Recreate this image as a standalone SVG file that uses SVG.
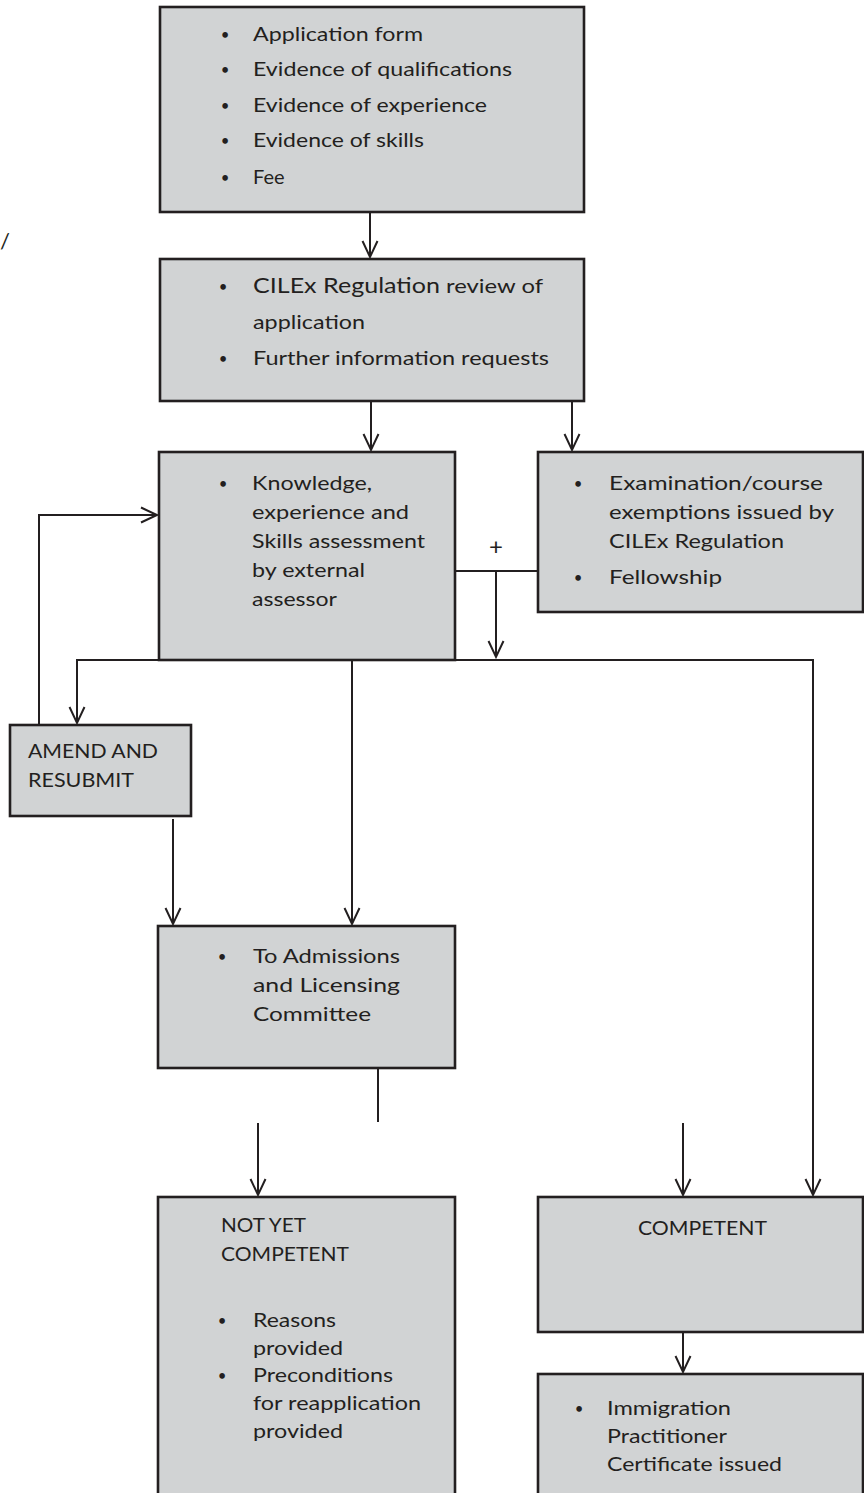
<svg xmlns="http://www.w3.org/2000/svg" width="864" height="1493" viewBox="0 0 864 1493">
<style>
.box{fill:#d1d3d4;stroke:#231f20;stroke-width:2.6}
.t{font-family:Lato,"Open Sans",sans-serif;font-size:20px;fill:#231f20}
.b{font-family:Lato,"Open Sans",sans-serif;font-size:15px;fill:#231f20;text-anchor:middle}
.c{fill:none;stroke:#231f20;stroke-width:2}
</style>
<defs>
<marker id="ah" markerUnits="userSpaceOnUse" markerWidth="20" markerHeight="20" orient="auto" refX="0" refY="0" overflow="visible">
<path d="M-16,-7.5 L0,0 L-16,7.5" fill="none" stroke="#231f20" stroke-width="2"/>
</marker>
</defs>
<rect width="864" height="1493" fill="#fff"/>
<text class="t" x="0" y="249" style="font-size:22px">/</text>

<g id="connectors">
<line class="c" x1="370" y1="212" x2="370" y2="257" marker-end="url(#ah)"/>
<line class="c" x1="371" y1="401" x2="371" y2="450" marker-end="url(#ah)"/>
<line class="c" x1="572" y1="401" x2="572" y2="450" marker-end="url(#ah)"/>
<polyline class="c" points="39,725 39,515 157,515" marker-end="url(#ah)"/>
<line class="c" x1="455" y1="571" x2="538" y2="571"/>
<line class="c" x1="496" y1="571" x2="496" y2="657" marker-end="url(#ah)"/>
<line class="c" x1="76" y1="660" x2="814" y2="660"/>
<line class="c" x1="77" y1="660" x2="77" y2="723" marker-end="url(#ah)"/>
<line class="c" x1="352" y1="660" x2="352" y2="924" marker-end="url(#ah)"/>
<line class="c" x1="813" y1="660" x2="813" y2="1195" marker-end="url(#ah)"/>
<line class="c" x1="173" y1="819" x2="173" y2="924" marker-end="url(#ah)"/>
<line class="c" x1="378" y1="1068" x2="378" y2="1122"/>
<line class="c" x1="258" y1="1123" x2="258" y2="1195" marker-end="url(#ah)"/>
<line class="c" x1="683" y1="1123" x2="683" y2="1195" marker-end="url(#ah)"/>
<line class="c" x1="683" y1="1332" x2="683" y2="1372" marker-end="url(#ah)"/>
<text class="t" x="496" y="555" text-anchor="middle" style="font-size:24px">+</text>
</g>

<g id="n-application">
<rect class="box" x="160" y="7" width="424" height="205"/>
<text class="b" x="225" y="40">•</text><text class="t" x="253" y="41" textLength="170" lengthAdjust="spacingAndGlyphs">Application form</text>
<text class="b" x="225" y="75">•</text><text class="t" x="253" y="76" textLength="259" lengthAdjust="spacingAndGlyphs">Evidence of qualifications</text>
<text class="b" x="225" y="111">•</text><text class="t" x="253" y="112" textLength="234" lengthAdjust="spacingAndGlyphs">Evidence of experience</text>
<text class="b" x="225" y="146">•</text><text class="t" x="253" y="147" textLength="171" lengthAdjust="spacingAndGlyphs">Evidence of skills</text>
<text class="b" x="225" y="183">•</text><text class="t" x="253" y="184">Fee</text>
</g>

<g id="n-review">
<rect class="box" x="160" y="259" width="424" height="142"/>
<text class="b" x="223" y="292">•</text>
<text class="t" x="253" y="293" style="font-size:22px" textLength="187" lengthAdjust="spacingAndGlyphs">CILEx Regulation</text>
<text class="t" x="446" y="293" textLength="97" lengthAdjust="spacingAndGlyphs">review of</text>
<text class="t" x="253" y="329" textLength="112" lengthAdjust="spacingAndGlyphs">application</text>
<text class="b" x="223" y="364">•</text><text class="t" x="253" y="365" textLength="296" lengthAdjust="spacingAndGlyphs">Further information requests</text>
</g>

<g id="n-assessment">
<rect class="box" x="159" y="452" width="296" height="208"/>
<text class="b" x="223" y="489">•</text><text class="t" x="252" y="490" textLength="120" lengthAdjust="spacingAndGlyphs">Knowledge,</text>
<text class="t" x="252" y="519" textLength="157" lengthAdjust="spacingAndGlyphs">experience and</text>
<text class="t" x="252" y="548" textLength="173" lengthAdjust="spacingAndGlyphs">Skills assessment</text>
<text class="t" x="252" y="577" textLength="113" lengthAdjust="spacingAndGlyphs">by external</text>
<text class="t" x="252" y="606" textLength="85" lengthAdjust="spacingAndGlyphs">assessor</text>
</g>

<g id="n-exemptions">
<rect class="box" x="538" y="452" width="325" height="160"/>
<text class="b" x="578" y="489">•</text><text class="t" x="609" y="490" textLength="214" lengthAdjust="spacingAndGlyphs">Examination/course</text>
<text class="t" x="609" y="519" textLength="225" lengthAdjust="spacingAndGlyphs">exemptions issued by</text>
<text class="t" x="609" y="548" textLength="175" lengthAdjust="spacingAndGlyphs">CILEx Regulation</text>
<text class="b" x="578" y="583">•</text><text class="t" x="609" y="584" textLength="113" lengthAdjust="spacingAndGlyphs">Fellowship</text>
</g>

<g id="n-amend">
<rect class="box" x="10" y="725" width="181" height="91"/>
<text class="t" x="28" y="758" textLength="130" lengthAdjust="spacingAndGlyphs">AMEND AND</text>
<text class="t" x="28" y="787" textLength="106" lengthAdjust="spacingAndGlyphs">RESUBMIT</text>
</g>

<g id="n-committee">
<rect class="box" x="158" y="926" width="297" height="142"/>
<text class="b" x="222" y="962">•</text><text class="t" x="253" y="963" textLength="147" lengthAdjust="spacingAndGlyphs">To Admissions</text>
<text class="t" x="253" y="992" textLength="147" lengthAdjust="spacingAndGlyphs">and Licensing</text>
<text class="t" x="253" y="1021" textLength="118" lengthAdjust="spacingAndGlyphs">Committee</text>
</g>

<g id="n-notyet">
<rect class="box" x="158" y="1197" width="297" height="310"/>
<text class="t" x="221" y="1232" textLength="85" lengthAdjust="spacingAndGlyphs">NOT YET</text>
<text class="t" x="221" y="1261" textLength="128" lengthAdjust="spacingAndGlyphs">COMPETENT</text>
<text class="b" x="222" y="1326">•</text><text class="t" x="253" y="1327" textLength="83" lengthAdjust="spacingAndGlyphs">Reasons</text>
<text class="t" x="253" y="1355" textLength="90" lengthAdjust="spacingAndGlyphs">provided</text>
<text class="b" x="222" y="1381">•</text><text class="t" x="253" y="1382" textLength="140" lengthAdjust="spacingAndGlyphs">Preconditions</text>
<text class="t" x="253" y="1410" textLength="168" lengthAdjust="spacingAndGlyphs">for reapplication</text>
<text class="t" x="253" y="1438" textLength="90" lengthAdjust="spacingAndGlyphs">provided</text>
</g>

<g id="n-competent">
<rect class="box" x="538" y="1197" width="325" height="135"/>
<text class="t" x="638" y="1235" textLength="129" lengthAdjust="spacingAndGlyphs">COMPETENT</text>
</g>

<g id="n-certificate">
<rect class="box" x="538" y="1374" width="325" height="130"/>
<text class="b" x="579" y="1414">•</text><text class="t" x="607" y="1415" textLength="124" lengthAdjust="spacingAndGlyphs">Immigration</text>
<text class="t" x="607" y="1443" textLength="120" lengthAdjust="spacingAndGlyphs">Practitioner</text>
<text class="t" x="607" y="1471" textLength="175" lengthAdjust="spacingAndGlyphs">Certificate issued</text>
</g>
</svg>
